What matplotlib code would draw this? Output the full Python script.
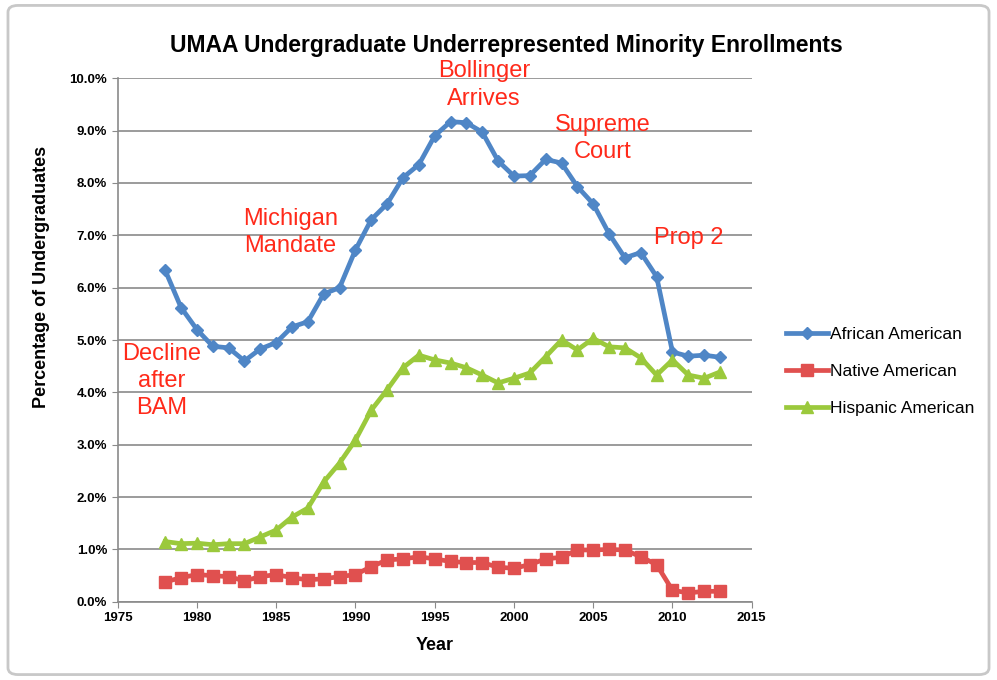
"""UMAA undergraduate underrepresented minority enrollments, 1978-2013."""

import matplotlib

matplotlib.use("Agg")
import matplotlib.pyplot as plt
from matplotlib.patches import FancyBboxPatch
from matplotlib.ticker import FuncFormatter

years = list(range(1978, 2014))

african_american = [
    6.33, 5.62, 5.20, 4.88, 4.85, 4.60, 4.83, 4.95, 5.25, 5.35,
    5.88, 6.00, 6.72, 7.30, 7.60, 8.10, 8.35, 8.90, 9.17, 9.15,
    8.97, 8.42, 8.13, 8.14, 8.45, 8.38, 7.93, 7.60, 7.03, 6.57,
    6.67, 6.21, 4.77, 4.69, 4.71, 4.67,
]
native_american = [
    0.38, 0.46, 0.52, 0.50, 0.48, 0.40, 0.48, 0.52, 0.46, 0.42,
    0.44, 0.48, 0.52, 0.67, 0.80, 0.82, 0.86, 0.82, 0.77, 0.75,
    0.75, 0.66, 0.64, 0.71, 0.82, 0.85, 0.99, 0.99, 1.00, 0.99,
    0.86, 0.71, 0.22, 0.17, 0.20, 0.20,
]
hispanic_american = [
    1.15, 1.11, 1.12, 1.09, 1.11, 1.11, 1.24, 1.37, 1.62, 1.79,
    2.29, 2.65, 3.09, 3.66, 4.05, 4.47, 4.71, 4.62, 4.56, 4.47,
    4.33, 4.18, 4.27, 4.37, 4.68, 5.00, 4.81, 5.03, 4.87, 4.85,
    4.66, 4.33, 4.62, 4.33, 4.27, 4.39,
]

annotations = [
    ("Bollinger\nArrives", 1998.1, 9.87),
    ("Michigan\nMandate", 1985.9, 7.06),
    ("Supreme\nCourt", 2005.6, 8.85),
    ("Prop 2", 2011.0, 6.95),
    ("Decline\nafter\nBAM", 1977.8, 4.22),
]

plt.rcParams["font.family"] = ["Liberation Sans", "DejaVu Sans"]

fig = plt.figure(figsize=(9.97, 6.8), dpi=100)
ax = fig.add_axes([0.118, 0.115, 0.636, 0.77])

fig.patches.append(FancyBboxPatch((0.008, 0.008), 0.984, 0.984,
                                  boxstyle="round,pad=0,rounding_size=0.01",
                                  transform=fig.transFigure, facecolor="none",
                                  edgecolor="#c8c8c8", linewidth=2))

series = [
    ("African American", african_american, "#4f86c6", "D", 6.5),
    ("Native American", native_american, "#e0504f", "s", 9),
    ("Hispanic American", hispanic_american, "#9bc93c", "^", 9),
]
for label, values, color, marker, size in series:
    ax.plot(years, values, color=color, linewidth=3.4, marker=marker,
            markersize=size, markeredgecolor=color, label=label)

ax.set_xlim(1975, 2015)
ax.set_ylim(0, 10)
ax.set_xticks(range(1975, 2016, 5))
ax.set_yticks(range(0, 11))
ax.yaxis.set_major_formatter(FuncFormatter(lambda v, _: f"{v:.1f}%"))
ax.grid(axis="y", color="#8a8a8a", linewidth=1.2)
ax.set_axisbelow(True)
for side in ("top", "right"):
    ax.spines[side].set_visible(False)
for side in ("left", "bottom"):
    ax.spines[side].set_color("#8a8a8a")
    ax.spines[side].set_linewidth(1.2)
ax.tick_params(length=4, color="#8a8a8a", labelsize=9.5)
for lbl in ax.get_xticklabels() + ax.get_yticklabels():
    lbl.set_fontweight("bold")

ax.set_xlabel("Year", fontsize=13, fontweight="bold", labelpad=9)
ax.set_ylabel("Percentage of Undergraduates", fontsize=13, fontweight="bold")
ax.yaxis.set_label_coords(-0.107, 0.62)
fig.suptitle("UMAA Undergraduate Underrepresented Minority Enrollments",
             x=0.508, y=0.95, fontsize=16.5, fontweight="bold")

for text, x, y in annotations:
    ax.text(x, y, text, color="#ff2a1a", fontsize=17, ha="center", va="center",
            linespacing=1.3)

ax.legend(loc="center left", bbox_to_anchor=(1.03, 0.44), frameon=False,
          handlelength=2.4, handletextpad=0.1, labelspacing=1.25,
          prop={"size": 12.5})

fig.savefig("out.png", dpi=100)
